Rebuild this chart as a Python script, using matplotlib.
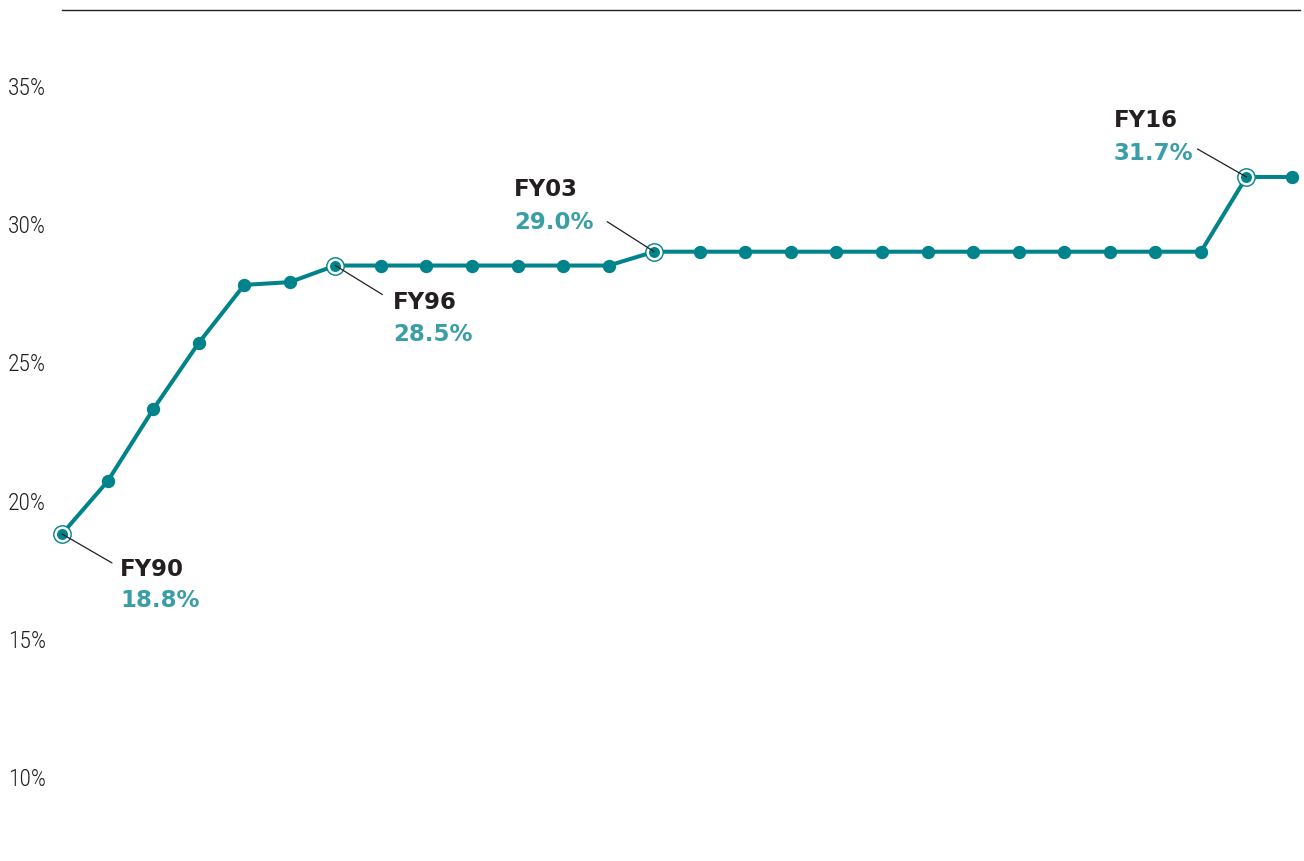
import os
import matplotlib
matplotlib.use("Agg")
import matplotlib.pyplot as plt
from matplotlib import font_manager as fm

# Effective rate by fiscal year
years = ["FY90", "FY91", "FY92", "FY93", "FY94", "FY95", "FY96",
         "FY97", "FY98", "FY99", "FY00", "FY01", "FY02",
         "FY03", "FY04", "FY05", "FY06", "FY07", "FY08", "FY09",
         "FY10", "FY11", "FY12", "FY13", "FY14", "FY15",
         "FY16", "FY17"]
rates = [18.8, 20.7, 23.3, 25.7, 27.8, 27.9, 28.5,
         28.5, 28.5, 28.5, 28.5, 28.5, 28.5,
         29.0, 29.0, 29.0, 29.0, 29.0, 29.0, 29.0,
         29.0, 29.0, 29.0, 29.0, 29.0, 29.0,
         31.7, 31.7]
highlight_years = ["FY90", "FY96", "FY03", "FY16"]
tick_values = [10, 15, 20, 25, 30, 35]
tick_labels = ["10%", "15%", "20%", "25%", "30%", "35%"]

TEAL = "#00838A"
VALUE_TEAL = "#3A9EA8"
DARK = "#231F20"


def narrow_font():
    """Pick a condensed sans face for the axis labels."""
    files = [f.fname for f in fm.fontManager.ttflist]
    prefs = ["LiberationSansNarrow-Regular", "RobotoCondensed-Light",
             "RobotoCondensed-Regular", "OpenSans_Condensed-Regular",
             "OpenSansCondensed-Light", "OpenSans-CondensedRegular",
             "NotoSans-CondensedLight", "NotoSans-Condensed",
             "DejaVuSansCondensed.ttf"]
    for p in prefs:
        for fn in files:
            if p.lower() in os.path.basename(fn).lower():
                return fm.FontProperties(fname=fn)
    for fn in files:
        b = os.path.basename(fn).lower()
        if ("narrow" in b or "condensed" in b) and "bold" not in b \
                and "italic" not in b and "oblique" not in b:
            return fm.FontProperties(fname=fn)
    return fm.FontProperties(family="DejaVu Sans")


W, H = 1304, 861
fig = plt.figure(figsize=(W / 100, H / 100), dpi=100)
ax = fig.add_axes([62 / W, 0, (1300 - 62) / W, (H - 10) / H])

x = list(range(len(years)))
ax.plot(x, rates, color=TEAL, lw=2.9, marker="o", ms=8.6,
        mec=TEAL, mfc=TEAL, zorder=2, clip_on=False, solid_joinstyle="round")

step_px = 45.556
ax.set_xlim(0, (1300 - 62) / step_px)
ax.set_ylim(6.98, 37.735)

for s in ["left", "right", "bottom"]:
    ax.spines[s].set_visible(False)
ax.spines["top"].set_color(DARK)
ax.spines["top"].set_linewidth(1.0)

ax.set_xticks([])
ax.set_yticks(tick_values)
tick_font = narrow_font()
tick_font.set_size(17)
ax.set_yticklabels(tick_labels, fontproperties=tick_font, color=DARK)
ax.tick_params(axis="y", length=0, pad=11.5)

# keep the tick labels no wider than about 40 px ("35%")
fig.canvas.draw()
renderer = fig.canvas.get_renderer()
lbl = ax.get_yticklabels()[-1]
wpx = lbl.get_window_extent(renderer).width
if wpx > 0:
    new_size = 17 * min(1.0, 40.0 / wpx)
    for t in ax.get_yticklabels():
        t.set_fontsize(new_size)

# Callout layout (pixel offsets): leader end, name baseline, value baseline
callouts = {
    "FY90": dict(lead=(50, -29), dx=58, name_dy=-42, val_dy=-73),
    "FY96": dict(lead=(47, -29), dx=57.5, name_dy=-43, val_dy=-75),
    "FY03": dict(lead=(-47, 30), dx=-140, name_dy=56, val_dy=23),
    "FY16": dict(lead=(-49, 28), dx=-132.5, name_dy=50, val_dy=17),
}

for yr in highlight_years:
    i = years.index(yr)
    v = rates[i]
    c = callouts[yr]
    ax.plot([i], [v], marker="o", ms=12.5, mfc="white", mec=TEAL, mew=1.0,
            zorder=4, clip_on=False, ls="none")
    ax.plot([i], [v], marker="o", ms=7.9, mfc=TEAL, mec=TEAL, mew=0,
            zorder=5, clip_on=False, ls="none")
    ax.annotate("", xy=(i, v), xytext=c["lead"], textcoords="offset pixels",
                arrowprops=dict(arrowstyle="-", color=DARK, lw=0.9,
                                shrinkA=0, shrinkB=0), zorder=6)
    ax.annotate(yr, xy=(i, v), xytext=(c["dx"], c["name_dy"]),
                textcoords="offset pixels", ha="left", va="baseline",
                fontsize=16.5, fontweight="bold", color=DARK,
                family="DejaVu Sans")
    ax.annotate(f"{v:.1f}%", xy=(i, v), xytext=(c["dx"], c["val_dy"]),
                textcoords="offset pixels", ha="left", va="baseline",
                fontsize=16.5, fontweight="bold", color=VALUE_TEAL,
                family="DejaVu Sans")

fig.savefig("out.png", dpi=100)
